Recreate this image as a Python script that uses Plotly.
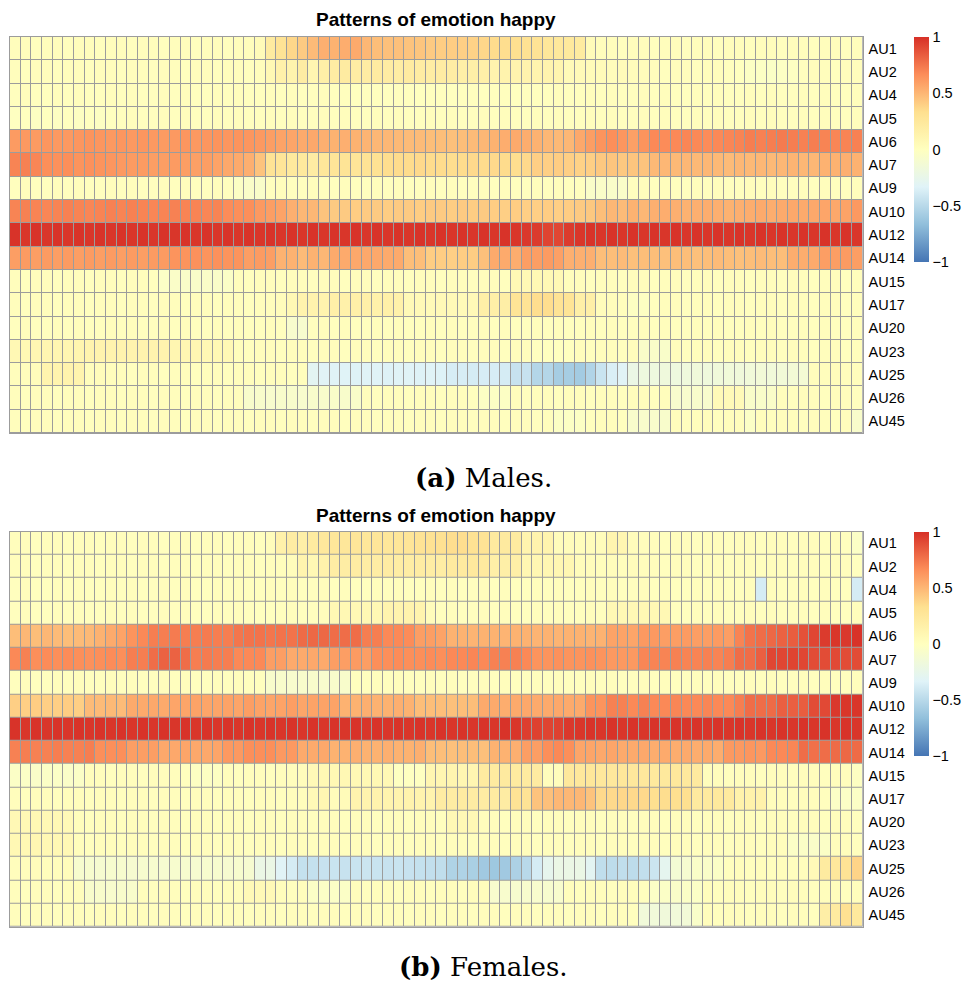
import plotly.graph_objects as go

aus = ["AU1", "AU2", "AU4", "AU5", "AU6", "AU7", "AU9", "AU10", "AU12",
       "AU14", "AU15", "AU17", "AU20", "AU23", "AU25", "AU26", "AU45"]
columns = list(range(1, 81))
tick_vals = [1, 0.5, 0, -0.5, -1]
tick_text = ["1", "0.5", "0", "\u22120.5", "\u22121"]
title_text = "Patterns of emotion happy"
captions = ["<b>(a)</b> Males.", "<b>(b)</b> Females."]

# ---------------- Males ----------------
m_au1 = [0.02, 0.02, 0.01, 0.02, 0.02, 0.01, 0.02, 0.02, 0.01, 0.02,
         0.02, 0.01, 0.02, 0.02, 0.01, 0.02, 0.02, 0.01, 0.02, 0.02,
         0.01, 0.02, 0.02, 0.04, 0.22, 0.30, 0.37, 0.42, 0.48, 0.53,
         0.52, 0.54, 0.55, 0.50, 0.47, 0.46, 0.46, 0.45, 0.44, 0.42,
         0.41, 0.41, 0.40, 0.39, 0.37, 0.35, 0.34, 0.33, 0.31, 0.30,
         0.26, 0.25, 0.24, 0.22, 0.04, 0.02, 0.02, 0.01, 0.02, 0.02,
         0.01, 0.02, 0.02, 0.01, 0.02, 0.02, 0.01, 0.02, 0.02, 0.01,
         0.02, 0.02, 0.01, 0.02, 0.02, 0.01, 0.02, 0.02, 0.01, 0.02]
m_au2 = [0.02, 0.01, 0.02, 0.02, 0.01, 0.02, 0.02, 0.01, 0.02, 0.02,
         0.01, 0.02, 0.02, 0.01, 0.02, 0.02, 0.01, 0.02, 0.02, 0.01,
         0.02, 0.02, 0.01, 0.02, 0.08, 0.15, 0.13, 0.20, 0.10, 0.17,
         0.20, 0.21, 0.19, 0.20, 0.21, 0.20, 0.19, 0.21, 0.20, 0.19,
         0.20, 0.19, 0.17, 0.17, 0.16, 0.12, 0.13, 0.12, 0.13, 0.12,
         0.12, 0.11, 0.05, 0.05, 0.04, 0.04, 0.03, 0.04, 0.03, 0.03,
         0.02, 0.01, 0.02, 0.02, 0.01, 0.02, 0.02, 0.01, 0.00, -0.03,
         -0.03, -0.04, -0.03, -0.02, 0.01, 0.02, 0.02, 0.01, 0.02, 0.02]
m_au4 = [0.01, 0.02, 0.01, 0.01, 0.02, 0.01, 0.02, 0.01, 0.01, 0.02,
         0.01, 0.02, 0.01, 0.01, 0.02, 0.01, 0.02, 0.01, 0.01, 0.02,
         0.01, 0.02, 0.01, 0.01, 0.02, 0.01, 0.02, 0.01, 0.01, 0.02,
         0.01, 0.01, 0.00, 0.01, 0.01, 0.00, 0.01, 0.01, 0.00, 0.01,
         0.01, 0.00, 0.01, 0.01, 0.00, 0.01, 0.01, 0.00, 0.01, 0.01,
         0.01, 0.02, 0.01, 0.01, 0.02, 0.01, 0.02, 0.01, 0.01, 0.02,
         0.01, 0.02, 0.01, 0.01, 0.02, 0.01, 0.02, 0.01, 0.01, 0.02,
         0.01, 0.02, 0.01, 0.01, 0.02, 0.01, 0.02, 0.01, 0.01, 0.02]
m_au5 = [-0.01, 0.00, -0.02, 0.00, -0.02, 0.00, -0.02, 0.00, -0.02, 0.00,
         0.01, 0.02, 0.01, 0.01, 0.02, 0.01, 0.02, 0.01, 0.01, 0.02,
         0.01, 0.02, 0.01, 0.01, 0.02, 0.01, 0.02, 0.01, 0.01, 0.02,
         0.01, 0.02, 0.01, 0.01, 0.02, 0.01, 0.02, 0.01, 0.01, 0.02,
         0.01, 0.02, 0.01, 0.01, 0.02, 0.01, 0.02, 0.01, 0.01, 0.02,
         0.01, 0.02, 0.01, 0.01, 0.02, 0.01, 0.02, 0.01, 0.01, 0.02,
         0.01, 0.02, 0.01, 0.01, 0.02, 0.01, 0.02, 0.01, 0.01, 0.02,
         0.01, 0.02, 0.01, 0.01, 0.02, 0.01, 0.02, 0.01, 0.01, 0.02]
m_au6 = [0.61, 0.62, 0.61, 0.63, 0.62, 0.62, 0.63, 0.64, 0.63, 0.62,
         0.63, 0.62, 0.63, 0.62, 0.61, 0.62, 0.63, 0.62, 0.63, 0.64,
         0.63, 0.64, 0.63, 0.62, 0.60, 0.58, 0.57, 0.55, 0.56, 0.53,
         0.52, 0.53, 0.52, 0.51, 0.50, 0.50, 0.49, 0.48, 0.48, 0.47,
         0.47, 0.46, 0.47, 0.48, 0.50, 0.52, 0.54, 0.55, 0.54, 0.52,
         0.50, 0.49, 0.50, 0.56, 0.60, 0.64, 0.66, 0.63, 0.59, 0.64,
         0.68, 0.67, 0.68, 0.69, 0.68, 0.67, 0.68, 0.69, 0.70, 0.72,
         0.71, 0.72, 0.73, 0.72, 0.71, 0.72, 0.70, 0.69, 0.70, 0.71]
m_au7 = [0.70, 0.71, 0.69, 0.66, 0.65, 0.66, 0.64, 0.65, 0.64, 0.63,
         0.62, 0.61, 0.61, 0.60, 0.60, 0.61, 0.60, 0.59, 0.60, 0.58,
         0.56, 0.55, 0.53, 0.45, 0.30, 0.28, 0.24, 0.24, 0.20, 0.26,
         0.28, 0.29, 0.28, 0.30, 0.31, 0.34, 0.35, 0.35, 0.36, 0.35,
         0.35, 0.34, 0.35, 0.36, 0.35, 0.36, 0.35, 0.34, 0.36, 0.40,
         0.40, 0.41, 0.40, 0.39, 0.40, 0.43, 0.44, 0.43, 0.44, 0.45,
         0.49, 0.50, 0.49, 0.50, 0.49, 0.50, 0.49, 0.48, 0.50, 0.49,
         0.50, 0.49, 0.50, 0.51, 0.50, 0.50, 0.52, 0.52, 0.53, 0.52]
m_au9 = [0.01, 0.02, 0.01, 0.01, 0.02, 0.01, 0.02, 0.01, 0.01, 0.02,
         0.01, 0.02, 0.01, 0.01, 0.02, 0.01, 0.02, 0.01, 0.01, 0.02,
         0.01, -0.03, -0.05, -0.06, 0.01, 0.02, 0.01, 0.01, 0.02, 0.01,
         0.01, 0.02, 0.01, 0.01, 0.02, 0.01, 0.02, 0.01, 0.01, 0.02,
         0.01, 0.02, 0.01, 0.01, 0.02, 0.01, 0.02, 0.01, 0.01, 0.02,
         0.01, 0.02, 0.01, 0.01, -0.05, -0.05, -0.06, -0.05, 0.01, 0.02,
         0.01, 0.02, 0.01, 0.01, 0.02, 0.01, 0.02, 0.01, 0.01, 0.02,
         0.01, 0.02, 0.01, 0.01, 0.02, 0.01, 0.02, 0.01, 0.01, 0.02]
m_au10 = [0.70, 0.71, 0.70, 0.69, 0.70, 0.71, 0.70, 0.69, 0.70, 0.71,
          0.70, 0.71, 0.70, 0.69, 0.70, 0.71, 0.70, 0.70, 0.69, 0.70,
          0.67, 0.66, 0.66, 0.62, 0.60, 0.58, 0.53, 0.50, 0.50, 0.45,
          0.42, 0.42, 0.41, 0.42, 0.42, 0.41, 0.42, 0.42, 0.41, 0.42,
          0.42, 0.41, 0.42, 0.41, 0.42, 0.41, 0.40, 0.41, 0.40, 0.40,
          0.41, 0.40, 0.41, 0.42, 0.43, 0.47, 0.50, 0.48, 0.52, 0.50,
          0.53, 0.54, 0.53, 0.52, 0.53, 0.54, 0.53, 0.52, 0.53, 0.54,
          0.55, 0.54, 0.55, 0.56, 0.55, 0.56, 0.57, 0.56, 0.58, 0.62]
m_au12 = [0.99, 0.98, 0.99, 0.98, 0.99, 0.98, 0.99, 0.98, 0.99, 0.98,
          0.99, 0.98, 0.99, 0.98, 0.99, 0.98, 0.99, 0.98, 0.99, 0.98,
          0.99, 0.98, 0.99, 0.98, 0.99, 0.98, 0.99, 0.98, 0.99, 0.98,
          0.99, 0.98, 0.99, 0.98, 0.99, 0.98, 0.99, 0.98, 0.99, 0.98,
          0.99, 0.98, 0.99, 0.98, 0.99, 0.98, 0.99, 0.98, 0.97, 0.96,
          0.93, 0.92, 0.96, 0.98, 0.99, 0.98, 0.99, 0.98, 0.99, 0.98,
          0.99, 0.98, 0.99, 0.98, 0.99, 0.98, 0.99, 0.98, 0.99, 0.98,
          0.99, 0.98, 0.99, 0.98, 0.99, 0.98, 0.99, 0.98, 0.99, 0.98]
m_au14 = [0.60, 0.61, 0.60, 0.61, 0.60, 0.61, 0.60, 0.61, 0.60, 0.61,
          0.60, 0.61, 0.60, 0.61, 0.61, 0.64, 0.64, 0.65, 0.64, 0.65,
          0.64, 0.64, 0.60, 0.61, 0.60, 0.52, 0.52, 0.48, 0.52, 0.50,
          0.55, 0.55, 0.56, 0.56, 0.56, 0.55, 0.55, 0.47, 0.47, 0.41,
          0.41, 0.40, 0.41, 0.41, 0.46, 0.55, 0.55, 0.54, 0.60, 0.60,
          0.61, 0.59, 0.53, 0.53, 0.53, 0.47, 0.47, 0.48, 0.46, 0.47,
          0.47, 0.46, 0.47, 0.47, 0.46, 0.47, 0.48, 0.47, 0.46, 0.47,
          0.48, 0.47, 0.47, 0.54, 0.54, 0.55, 0.60, 0.60, 0.61, 0.60]
m_au15 = [0.02, 0.01, 0.02, 0.02, 0.01, 0.02, 0.02, 0.01, 0.02, 0.02,
          0.01, 0.02, 0.02, 0.01, -0.04, -0.05, -0.05, -0.06, -0.05, -0.05,
          -0.04, 0.02, 0.01, 0.02, 0.02, 0.01, 0.02, 0.02, 0.01, 0.02,
          0.02, 0.01, 0.02, 0.02, 0.01, 0.02, 0.02, 0.01, 0.02, 0.02,
          0.01, 0.02, 0.02, 0.01, 0.02, 0.02, 0.01, 0.07, 0.07, 0.08,
          0.07, 0.07, 0.02, 0.02, 0.01, 0.02, 0.02, 0.01, 0.02, 0.02,
          0.01, 0.02, 0.02, 0.01, 0.02, 0.02, 0.01, 0.02, 0.02, 0.01,
          0.02, 0.02, 0.01, 0.02, 0.02, 0.01, 0.02, 0.02, 0.01, 0.02]
m_au17 = [0.02, 0.01, 0.02, 0.02, 0.01, 0.02, 0.02, 0.01, 0.02, 0.02,
          0.01, 0.02, 0.02, 0.01, 0.02, 0.02, 0.01, 0.02, 0.02, 0.01,
          0.02, 0.02, 0.01, 0.02, 0.02, 0.03, 0.08, 0.13, 0.13, 0.12,
          0.16, 0.15, 0.16, 0.16, 0.15, 0.16, 0.15, 0.06, 0.06, 0.05,
          0.06, 0.06, 0.05, 0.06, 0.17, 0.17, 0.18, 0.29, 0.30, 0.34,
          0.34, 0.30, 0.29, 0.17, 0.17, 0.03, 0.03, 0.02, -0.02, -0.02,
          0.01, 0.02, 0.02, 0.01, 0.02, 0.02, 0.01, 0.02, 0.02, 0.01,
          0.02, 0.02, 0.01, 0.02, 0.02, 0.01, 0.02, 0.02, 0.01, 0.02]
m_au20 = [0.01, 0.02, 0.01, 0.01, 0.02, 0.01, 0.02, 0.01, 0.01, 0.02,
          0.01, 0.02, 0.01, 0.01, 0.02, 0.01, 0.02, 0.01, 0.01, 0.02,
          0.01, 0.02, 0.01, 0.01, 0.02, 0.01, -0.08, -0.09, 0.01, 0.02,
          0.01, 0.02, 0.01, 0.01, 0.02, 0.01, 0.02, 0.01, 0.01, 0.02,
          0.01, 0.02, 0.01, 0.01, 0.02, 0.01, 0.02, 0.01, 0.01, 0.02,
          0.01, 0.02, 0.01, 0.01, 0.02, 0.01, 0.02, 0.01, 0.01, 0.02,
          0.01, 0.02, 0.01, 0.01, 0.02, 0.01, 0.02, 0.01, 0.01, 0.02,
          0.01, 0.02, 0.01, 0.01, 0.02, 0.01, 0.02, 0.01, 0.01, 0.02]
m_au23 = [0.08, 0.08, 0.09, 0.10, 0.10, 0.10, 0.11, 0.12, 0.12, 0.12,
          0.12, 0.12, 0.12, 0.12, 0.12, 0.10, 0.09, 0.09, 0.08, 0.08,
          0.07, 0.02, 0.01, 0.02, 0.02, 0.01, 0.02, 0.02, 0.01, 0.02,
          0.02, 0.01, 0.02, 0.02, 0.01, 0.02, 0.02, 0.01, 0.02, 0.02,
          0.01, 0.02, 0.02, 0.01, 0.02, 0.02, 0.01, 0.02, 0.02, 0.00,
          0.00, 0.00, 0.00, 0.02, 0.01, 0.02, 0.02, 0.01, 0.02, -0.05,
          -0.05, -0.06, 0.02, 0.01, 0.02, 0.02, 0.01, 0.02, 0.02, 0.01,
          0.02, 0.02, 0.01, 0.02, 0.02, 0.01, 0.02, 0.02, 0.01, 0.02]
m_au25 = [0.02, 0.02, 0.03, 0.12, 0.12, 0.13, 0.12, 0.02, 0.03, 0.02,
          0.02, 0.01, 0.02, 0.02, 0.01, 0.02, 0.02, 0.01, 0.02, 0.02,
          0.01, 0.02, 0.02, 0.01, 0.02, 0.02, 0.01, 0.02, -0.30, -0.32,
          -0.33, -0.33, -0.34, -0.33, -0.33, -0.34, -0.33, -0.33, -0.34, -0.33,
          -0.34, -0.37, -0.37, -0.38, -0.37, -0.37, -0.38, -0.44, -0.44, -0.52,
          -0.52, -0.58, -0.58, -0.59, -0.53, -0.43, -0.36, -0.32, -0.22, -0.18,
          -0.18, -0.17, -0.18, -0.17, -0.16, -0.17, -0.16, -0.15, -0.16, -0.15,
          -0.14, -0.15, -0.14, -0.13, -0.12, 0.02, 0.02, 0.03, 0.02, 0.02]
m_au26 = [0.02, 0.01, 0.02, 0.02, 0.01, 0.02, 0.02, 0.01, 0.02, 0.02,
          0.01, 0.02, 0.02, 0.01, 0.02, 0.02, 0.01, 0.02, 0.02, 0.01,
          0.02, 0.02, -0.07, -0.07, -0.08, -0.07, -0.07, -0.08, -0.07, -0.07,
          -0.06, -0.07, -0.06, 0.02, 0.01, 0.02, 0.02, 0.01, 0.02, 0.02,
          0.01, 0.02, 0.02, 0.01, -0.03, -0.03, -0.03, 0.02, 0.01, 0.02,
          0.02, 0.01, 0.02, 0.02, 0.01, 0.02, 0.02, 0.01, 0.02, 0.02,
          0.01, 0.02, -0.08, -0.08, -0.07, -0.08, 0.05, 0.05, 0.05, -0.06,
          -0.06, -0.05, 0.02, 0.01, 0.02, 0.02, 0.01, 0.02, 0.02, 0.01]
m_au45 = [0.02, 0.01, 0.02, 0.02, 0.01, 0.02, 0.02, 0.01, 0.02, 0.02,
          0.01, 0.02, 0.02, 0.01, 0.02, 0.02, 0.01, 0.02, 0.02, 0.01,
          0.02, 0.02, 0.01, 0.02, 0.02, 0.01, 0.02, 0.02, 0.01, 0.02,
          0.02, 0.01, 0.02, 0.02, 0.01, 0.02, 0.02, 0.01, 0.02, 0.02,
          0.01, 0.02, 0.02, 0.01, 0.02, 0.02, 0.01, 0.02, 0.02, 0.01,
          0.02, -0.03, -0.03, -0.03, 0.01, 0.02, 0.02, 0.01, -0.07, -0.07,
          -0.07, -0.07, 0.02, 0.01, 0.02, 0.02, 0.01, 0.02, 0.02, -0.04,
          0.02, 0.01, 0.02, 0.02, 0.01, 0.02, 0.02, 0.01, 0.02, -0.07]

# ---------------- Females ----------------
f_au1 = [0.02, 0.02, 0.01, 0.02, 0.02, 0.01, 0.02, 0.02, 0.01, 0.02,
         0.02, 0.01, 0.02, 0.02, 0.01, 0.02, 0.02, 0.01, 0.02, 0.02,
         0.01, 0.02, 0.02, 0.01, 0.03, 0.15, 0.20, 0.17, 0.22, 0.25,
         0.26, 0.26, 0.27, 0.26, 0.27, 0.26, 0.27, 0.28, 0.30, 0.31,
         0.32, 0.34, 0.34, 0.31, 0.30, 0.23, 0.23, 0.22, 0.12, 0.13,
         0.12, 0.03, 0.03, 0.02, 0.03, 0.03, 0.11, 0.10, 0.03, 0.02,
         0.02, 0.01, 0.02, 0.02, 0.01, 0.02, 0.02, 0.01, 0.02, 0.02,
         0.01, 0.02, 0.02, 0.01, 0.02, 0.02, 0.01, 0.02, 0.01, -0.04]
f_au2 = [0.02, 0.02, 0.01, 0.02, 0.02, 0.01, 0.02, 0.02, 0.01, 0.02,
         0.02, 0.01, 0.02, 0.02, 0.01, 0.02, 0.02, 0.01, 0.02, 0.02,
         0.01, 0.02, 0.02, 0.01, 0.02, 0.02, 0.03, 0.12, 0.08, 0.14,
         0.19, 0.19, 0.20, 0.19, 0.19, 0.20, 0.19, 0.19, 0.20, 0.19,
         0.19, 0.23, 0.23, 0.24, 0.23, 0.17, 0.17, 0.17, 0.09, 0.09,
         0.09, 0.09, 0.09, 0.03, 0.03, 0.02, 0.03, 0.02, 0.03, 0.02,
         0.02, 0.01, 0.02, 0.02, 0.01, 0.02, 0.02, 0.01, 0.02, 0.02,
         0.01, 0.02, 0.02, 0.01, 0.02, 0.02, 0.01, 0.02, 0.02, 0.00]
f_au4 = [0.01, 0.02, 0.01, 0.01, 0.02, 0.01, 0.02, 0.01, 0.01, 0.02,
         0.01, 0.02, 0.01, 0.01, 0.02, 0.01, 0.02, 0.01, 0.01, 0.02,
         0.01, 0.02, 0.01, 0.01, 0.02, 0.01, 0.02, 0.01, 0.01, 0.02,
         0.01, 0.02, 0.01, 0.01, 0.02, 0.01, 0.02, 0.01, 0.01, 0.02,
         0.01, 0.02, 0.01, 0.01, 0.02, 0.01, 0.02, 0.01, 0.01, 0.02,
         0.01, 0.02, 0.01, 0.01, 0.02, 0.01, 0.02, 0.01, 0.01, 0.02,
         0.01, 0.02, 0.01, 0.01, 0.02, 0.01, 0.02, 0.01, 0.01, 0.02,
         -0.38, 0.02, 0.01, 0.01, 0.02, 0.01, 0.02, 0.01, 0.01, -0.38]
f_au5 = [0.01, 0.02, 0.01, 0.01, 0.02, 0.01, 0.02, 0.01, 0.01, 0.02,
         0.01, 0.02, 0.01, 0.01, 0.02, 0.01, 0.02, 0.01, 0.01, 0.02,
         0.01, 0.02, 0.01, 0.00, 0.00, 0.01, 0.02, 0.01, 0.01, 0.02,
         0.08, 0.08, 0.07, 0.08, 0.08, 0.12, 0.12, 0.13, 0.12, 0.03,
         0.01, 0.02, 0.01, 0.01, 0.02, 0.01, 0.02, 0.01, 0.01, 0.02,
         0.01, 0.02, 0.01, 0.01, 0.02, 0.01, 0.08, 0.08, 0.07, 0.08,
         0.08, 0.08, 0.01, 0.01, 0.02, 0.01, 0.02, 0.01, 0.01, 0.02,
         0.01, 0.02, 0.01, 0.01, 0.02, 0.01, 0.02, 0.01, 0.01, 0.02]
f_au6 = [0.47, 0.50, 0.47, 0.50, 0.48, 0.47, 0.48, 0.49, 0.52, 0.55,
         0.58, 0.64, 0.68, 0.72, 0.72, 0.73, 0.72, 0.72, 0.73, 0.72,
         0.72, 0.75, 0.76, 0.76, 0.75, 0.76, 0.76, 0.79, 0.80, 0.80,
         0.78, 0.78, 0.78, 0.72, 0.72, 0.68, 0.68, 0.67, 0.60, 0.60,
         0.58, 0.52, 0.52, 0.51, 0.52, 0.52, 0.51, 0.52, 0.52, 0.51,
         0.52, 0.51, 0.52, 0.52, 0.51, 0.52, 0.58, 0.58, 0.57, 0.62,
         0.62, 0.60, 0.60, 0.61, 0.60, 0.60, 0.61, 0.60, 0.70, 0.76,
         0.78, 0.80, 0.82, 0.84, 0.88, 0.92, 0.96, 0.98, 0.97, 0.99]
f_au7 = [0.68, 0.71, 0.66, 0.67, 0.66, 0.67, 0.66, 0.65, 0.66, 0.67,
         0.66, 0.72, 0.72, 0.78, 0.82, 0.82, 0.78, 0.72, 0.73, 0.72,
         0.72, 0.68, 0.68, 0.68, 0.60, 0.60, 0.55, 0.55, 0.56, 0.55,
         0.60, 0.60, 0.61, 0.60, 0.66, 0.66, 0.67, 0.66, 0.66, 0.67,
         0.66, 0.68, 0.68, 0.69, 0.68, 0.71, 0.71, 0.71, 0.68, 0.64,
         0.64, 0.65, 0.64, 0.64, 0.65, 0.64, 0.62, 0.62, 0.62, 0.69,
         0.70, 0.70, 0.71, 0.70, 0.70, 0.71, 0.70, 0.72, 0.78, 0.78,
         0.83, 0.92, 0.92, 0.93, 0.92, 0.90, 0.90, 0.91, 0.90, 0.90]
f_au9 = [0.01, 0.02, 0.01, 0.01, 0.02, 0.01, 0.02, 0.01, 0.01, 0.02,
         0.01, 0.02, 0.01, 0.01, 0.02, 0.01, 0.02, 0.01, 0.01, 0.02,
         0.01, 0.02, 0.01, 0.01, -0.07, -0.07, -0.08, -0.07, -0.07, -0.08,
         -0.07, -0.07, 0.01, 0.01, 0.02, 0.01, 0.02, 0.01, 0.01, 0.02,
         0.01, 0.02, 0.01, 0.01, 0.02, 0.01, 0.02, 0.01, 0.01, 0.02,
         0.01, 0.02, 0.01, 0.01, 0.02, 0.01, 0.02, 0.01, 0.01, 0.02,
         0.01, 0.02, 0.01, 0.01, 0.02, 0.01, 0.02, 0.01, 0.01, 0.02,
         0.01, 0.02, 0.01, 0.01, 0.02, 0.01, 0.02, 0.01, 0.01, 0.02]
f_au10 = [0.40, 0.40, 0.41, 0.40, 0.40, 0.41, 0.40, 0.48, 0.48, 0.49,
          0.48, 0.55, 0.55, 0.56, 0.55, 0.57, 0.57, 0.58, 0.57, 0.57,
          0.58, 0.57, 0.60, 0.58, 0.57, 0.58, 0.60, 0.57, 0.58, 0.58,
          0.58, 0.52, 0.52, 0.53, 0.52, 0.52, 0.53, 0.52, 0.47, 0.47,
          0.47, 0.46, 0.47, 0.47, 0.55, 0.55, 0.54, 0.55, 0.56, 0.55,
          0.55, 0.56, 0.55, 0.55, 0.64, 0.64, 0.71, 0.71, 0.68, 0.71,
          0.68, 0.68, 0.69, 0.68, 0.68, 0.69, 0.68, 0.68, 0.72, 0.78,
          0.78, 0.79, 0.83, 0.83, 0.84, 0.90, 0.91, 0.97, 0.98, 0.98]
f_au12 = [0.99, 0.98, 0.99, 0.98, 0.99, 0.98, 0.99, 0.98, 0.99, 0.98,
          0.99, 0.98, 0.99, 0.98, 0.99, 0.98, 0.99, 0.98, 0.99, 0.98,
          0.99, 0.98, 0.99, 0.98, 0.99, 0.98, 0.99, 0.98, 0.99, 0.98,
          0.99, 0.98, 0.99, 0.98, 0.99, 0.98, 0.99, 0.98, 0.99, 0.98,
          0.99, 0.98, 0.99, 0.98, 0.99, 0.98, 0.99, 0.98, 0.95, 0.94,
          0.93, 0.94, 0.97, 0.98, 0.99, 0.98, 0.99, 0.98, 0.99, 0.98,
          0.99, 0.98, 0.99, 0.98, 0.99, 0.98, 0.99, 0.98, 0.99, 0.98,
          0.99, 0.98, 0.99, 0.98, 0.99, 0.98, 0.99, 0.98, 0.99, 0.98]
f_au14 = [0.71, 0.72, 0.71, 0.71, 0.72, 0.71, 0.71, 0.72, 0.66, 0.66,
          0.66, 0.60, 0.60, 0.60, 0.56, 0.56, 0.57, 0.56, 0.56, 0.57,
          0.62, 0.62, 0.66, 0.66, 0.66, 0.62, 0.62, 0.55, 0.55, 0.56,
          0.52, 0.52, 0.53, 0.52, 0.52, 0.53, 0.52, 0.52, 0.53, 0.47,
          0.47, 0.46, 0.47, 0.47, 0.46, 0.52, 0.52, 0.53, 0.60, 0.60,
          0.66, 0.68, 0.66, 0.57, 0.57, 0.56, 0.57, 0.55, 0.55, 0.56,
          0.54, 0.55, 0.54, 0.55, 0.54, 0.55, 0.54, 0.62, 0.62, 0.63,
          0.62, 0.68, 0.68, 0.69, 0.78, 0.77, 0.78, 0.79, 0.80, 0.79]
f_au15 = [-0.04, -0.04, -0.05, -0.04, -0.04, -0.05, -0.04, 0.02, 0.02, 0.01,
          0.02, 0.02, 0.01, 0.02, 0.02, 0.02, 0.01, -0.02, -0.02, -0.02,
          0.02, 0.01, 0.02, 0.02, 0.01, 0.02, 0.02, 0.03, 0.06, 0.08,
          0.08, 0.08, 0.07, 0.08, 0.08, 0.07, -0.01, -0.01, -0.01, 0.10,
          0.10, 0.11, 0.10, 0.10, 0.22, 0.22, 0.23, 0.22, 0.22, 0.21,
          0.02, 0.02, 0.25, 0.25, 0.26, 0.25, 0.25, 0.26, 0.25, 0.25,
          0.24, 0.24, 0.25, 0.24, 0.23, 0.02, 0.02, 0.01, 0.02, 0.02,
          0.01, 0.02, 0.02, 0.01, 0.02, 0.02, 0.01, 0.02, 0.02, -0.02]
f_au17 = [0.02, 0.01, 0.02, 0.02, 0.01, 0.02, 0.02, 0.01, 0.02, 0.02,
          0.01, 0.02, 0.02, 0.01, 0.02, 0.02, 0.01, 0.02, 0.02, 0.01,
          0.02, 0.02, 0.01, 0.02, 0.02, 0.01, 0.02, 0.02, 0.06, 0.09,
          0.03, 0.04, 0.12, 0.12, 0.13, 0.12, 0.12, 0.13, 0.12, 0.12,
          0.20, 0.20, 0.21, 0.20, 0.20, 0.21, 0.20, 0.30, 0.30, 0.45,
          0.46, 0.50, 0.50, 0.50, 0.45, 0.36, 0.36, 0.37, 0.36, 0.36,
          0.33, 0.34, 0.33, 0.33, 0.23, 0.23, 0.24, 0.23, 0.14, 0.14,
          0.14, 0.02, 0.02, 0.01, 0.02, 0.02, 0.01, -0.04, -0.04, -0.04]
f_au20 = [0.07, 0.07, 0.08, 0.07, 0.07, 0.06, 0.02, 0.01, 0.02, 0.02,
          0.01, 0.02, 0.02, 0.01, 0.02, 0.02, 0.01, 0.02, 0.02, 0.01,
          0.02, 0.02, 0.01, 0.02, 0.02, 0.01, 0.02, 0.02, 0.01, 0.02,
          0.02, 0.01, 0.02, 0.02, 0.01, 0.02, 0.02, 0.01, 0.02, 0.02,
          0.01, 0.07, 0.07, 0.07, 0.02, 0.02, 0.01, 0.02, 0.02, 0.01,
          0.02, 0.02, 0.01, 0.02, 0.02, 0.01, 0.02, 0.02, 0.01, 0.02,
          0.02, 0.01, 0.02, 0.02, 0.01, 0.02, 0.02, 0.01, 0.02, 0.02,
          0.01, 0.02, 0.02, 0.01, 0.02, 0.02, 0.01, 0.02, 0.02, 0.01]
f_au23 = [0.08, 0.08, 0.09, 0.08, 0.08, 0.07, 0.02, 0.01, 0.02, 0.02,
          0.01, 0.02, 0.02, 0.01, 0.02, 0.02, 0.01, 0.02, 0.02, 0.01,
          0.02, 0.02, 0.01, 0.02, 0.02, 0.01, 0.02, 0.02, 0.01, 0.02,
          0.02, 0.01, 0.02, 0.02, 0.01, 0.02, 0.02, 0.01, 0.02, 0.02,
          0.01, 0.02, 0.02, 0.01, 0.02, 0.02, 0.01, 0.02, 0.02, 0.01,
          0.02, 0.02, 0.01, 0.02, 0.02, 0.01, 0.02, 0.02, 0.01, 0.02,
          0.02, 0.01, 0.02, 0.02, 0.01, 0.02, 0.02, 0.01, 0.02, 0.02,
          0.01, 0.02, 0.02, -0.04, -0.04, -0.05, -0.04, 0.02, 0.02, 0.01]
f_au25 = [0.02, 0.02, 0.03, 0.02, 0.02, 0.03, -0.09, -0.09, -0.10, -0.09,
          -0.09, -0.10, -0.09, -0.09, -0.10, -0.09, -0.09, -0.10, -0.09, -0.09,
          -0.10, -0.09, -0.10, -0.22, -0.22, -0.32, -0.38, -0.45, -0.45, -0.44,
          -0.43, -0.44, -0.43, -0.42, -0.43, -0.44, -0.43, -0.44, -0.45, -0.46,
          -0.47, -0.54, -0.54, -0.56, -0.60, -0.61, -0.60, -0.55, -0.50, -0.38,
          -0.27, -0.22, -0.22, -0.22, -0.30, -0.47, -0.48, -0.47, -0.48, -0.46,
          -0.42, -0.28, -0.12, -0.10, -0.05, -0.05, -0.04, 0.01, 0.02, 0.01,
          0.02, 0.01, 0.02, 0.01, 0.02, 0.05, 0.22, 0.25, 0.30, 0.38]
f_au26 = [0.02, 0.01, 0.02, 0.02, 0.01, 0.02, 0.02, -0.07, -0.07, -0.08,
          -0.07, -0.07, 0.02, 0.01, 0.02, 0.02, 0.01, 0.02, 0.02, 0.01,
          0.02, 0.02, 0.06, 0.06, 0.06, 0.02, 0.01, 0.02, -0.04, -0.04,
          -0.04, -0.04, 0.02, 0.01, 0.02, 0.02, 0.01, 0.02, 0.02, 0.01,
          0.02, 0.02, 0.01, 0.02, 0.02, -0.08, -0.08, -0.09, -0.08, -0.08,
          -0.09, -0.08, 0.02, 0.01, 0.02, 0.02, 0.01, 0.02, 0.02, 0.01,
          -0.04, -0.04, -0.05, -0.04, -0.04, 0.02, 0.01, 0.02, 0.02, 0.01,
          0.02, 0.02, 0.01, 0.02, 0.02, 0.01, 0.02, 0.02, 0.01, 0.02]
f_au45 = [0.02, 0.01, 0.02, 0.02, 0.01, 0.02, 0.02, 0.01, 0.02, 0.02,
          0.01, 0.02, 0.02, 0.01, 0.02, 0.02, 0.01, 0.02, 0.02, 0.01,
          0.02, 0.02, 0.01, 0.02, 0.02, 0.01, 0.02, 0.02, 0.01, 0.02,
          0.02, 0.01, 0.02, 0.02, 0.01, 0.02, 0.02, 0.01, 0.02, 0.02,
          0.01, 0.02, 0.02, 0.01, 0.02, 0.02, 0.01, 0.02, 0.02, 0.01,
          0.02, 0.02, 0.01, 0.02, 0.02, 0.01, 0.02, 0.02, 0.01, -0.15,
          -0.15, -0.16, -0.15, -0.14, -0.06, 0.02, 0.01, 0.02, 0.02, 0.01,
          0.02, 0.02, 0.01, 0.02, 0.02, 0.01, 0.18, 0.22, 0.32, 0.24]

males = [m_au1, m_au2, m_au4, m_au5, m_au6, m_au7, m_au9, m_au10, m_au12,
         m_au14, m_au15, m_au17, m_au20, m_au23, m_au25, m_au26, m_au45]
females = [f_au1, f_au2, f_au4, f_au5, f_au6, f_au7, f_au9, f_au10, f_au12,
           f_au14, f_au15, f_au17, f_au20, f_au23, f_au25, f_au26, f_au45]
for row in males + females:
    assert len(row) == 80, len(row)

# pheatmap default palette: rev(RColorBrewer RdYlBu, 7)
palette = ["#4575B4", "#91BFDB", "#E0F3F8", "#FFFFBF", "#FEE090", "#FC8D59", "#D73027"]
colorscale = [[i / 6, c] for i, c in enumerate(palette)]

W, H = 966, 988
x0, x1 = 10, 862.7
panels = [
    dict(z=males, top=37, bottom=433, cb_top=37, cb_bot=262, title_y=20, cap_y=478),
    dict(z=females, top=531.7, bottom=926.7, cb_top=532, cb_bot=756, title_y=515, cap_y=967),
]
grid = "#9C9C9C"
font_fam = "Liberation Sans, Arial, Helvetica, sans-serif"

fig = go.Figure()
annotations = []
for i, p in enumerate(panels):
    sfx = "" if i == 0 else str(i + 1)
    fig.add_trace(go.Heatmap(
        z=p["z"], x=columns, y=aus,
        xaxis="x" + sfx, yaxis="y" + sfx,
        colorscale=colorscale, zmin=-1, zmax=1,
        xgap=1, ygap=1,
        colorbar=dict(
            xref="container", yref="container",
            x=914 / W, xanchor="left", xpad=0, ypad=0,
            y=1 - (p["cb_top"] + p["cb_bot"]) / 2 / H, yanchor="middle",
            len=p["cb_bot"] - p["cb_top"], lenmode="pixels",
            thickness=15, thicknessmode="pixels",
            outlinewidth=0,
            tickvals=tick_vals, ticktext=tick_text, ticks="",
            tickfont=dict(family=font_fam, size=14.5, color="black"),
        ),
    ))
    fig.layout["xaxis" + sfx] = dict(
        domain=[x0 / W, x1 / W], anchor="y" + sfx, range=[0.5, 80.5],
        showticklabels=False, showgrid=False, zeroline=False, ticks="",
        showline=True, mirror=True, linecolor=grid, linewidth=1,
        automargin=False,
    )
    fig.layout["yaxis" + sfx] = dict(
        domain=[1 - p["bottom"] / H, 1 - p["top"] / H], anchor="x" + sfx,
        side="right", categoryorder="array", categoryarray=aus,
        autorange="reversed", showgrid=False, zeroline=False, ticks="",
        showline=True, mirror=True, linecolor=grid, linewidth=1,
        tickfont=dict(family=font_fam, size=14.5, color="black"),
        ticklabelstandoff=2, automargin=False,
    )
    annotations.append(dict(
        text="<b>" + title_text + "</b>", x=(x0 + x1) / 2 / W, y=1 - p["title_y"] / H,
        xref="paper", yref="paper", xanchor="center", yanchor="middle",
        showarrow=False, font=dict(family=font_fam, size=19, color="black"),
    ))
    annotations.append(dict(
        text=captions[i], x=0.5, y=1 - p["cap_y"] / H,
        xref="paper", yref="paper", xanchor="center", yanchor="middle",
        showarrow=False, font=dict(family="DejaVu Serif, serif", size=26, color="black"),
    ))

fig.update_layout(
    width=W, height=H, margin=dict(l=0, r=0, t=0, b=0, autoexpand=False),
    paper_bgcolor="white", plot_bgcolor=grid,
    annotations=annotations, showlegend=False,
)
fig.write_html(
    "out.html",
    config={"displayModeBar": False, "staticPlot": True},
    post_script="document.body.style.margin='0px';document.body.style.overflow='hidden';",
)
